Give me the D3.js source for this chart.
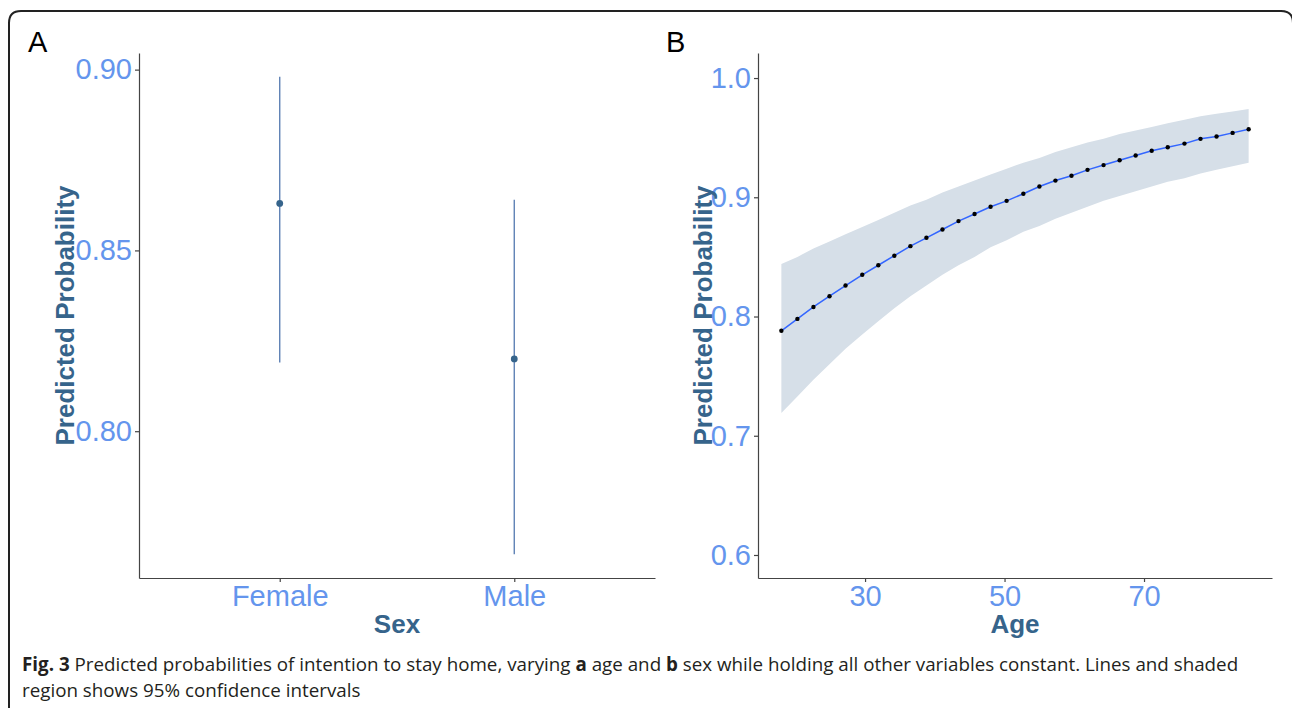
<!DOCTYPE html>
<html>
<head>
<meta charset="utf-8">
<script src="https://cdn.jsdelivr.net/npm/d3@7"></script>
<style>
	body { margin: 0; background: #fff; }
	svg text { font-family: "Liberation Sans", Arial, sans-serif; }
</style>
</head>
<body>
<div id="graph"></div>
<script>
"use strict";

// panel A: predicted probability by sex
let sexes = ["Female", "Male"];
let sexFit = [0.863, 0.820];
let sexLower = [0.819, 0.766];
let sexUpper = [0.898, 0.864];
let sexTicks = [0.80, 0.85, 0.90];

// panel B: predicted probability by age
let ages = [18.0, 20.3, 22.6, 24.9, 27.2, 29.6, 31.9, 34.2, 36.5, 38.8,
	41.1, 43.4, 45.7, 48.0, 50.3, 52.7, 55.0, 57.3, 59.6, 61.9,
	64.2, 66.5, 68.8, 71.1, 73.4, 75.8, 78.1, 80.4, 82.7, 85.0];
let ageFit = [0.788, 0.798, 0.808, 0.817, 0.826, 0.835, 0.843, 0.851, 0.859, 0.866,
	0.873, 0.880, 0.886, 0.892, 0.897, 0.903, 0.909, 0.914, 0.918, 0.923,
	0.927, 0.931, 0.935, 0.939, 0.942, 0.945, 0.949, 0.951, 0.954, 0.957];
let ageUpper = [0.844, 0.850, 0.857, 0.863, 0.869, 0.875, 0.881, 0.887, 0.893, 0.898,
	0.904, 0.909, 0.914, 0.919, 0.924, 0.929, 0.933, 0.938, 0.942, 0.946,
	0.949, 0.953, 0.956, 0.959, 0.962, 0.965, 0.968, 0.970, 0.972, 0.974];
let ageLower = [0.719, 0.733, 0.747, 0.760, 0.773, 0.785, 0.796, 0.807, 0.817, 0.826,
	0.835, 0.843, 0.850, 0.858, 0.864, 0.871, 0.876, 0.882, 0.887, 0.892,
	0.897, 0.901, 0.905, 0.909, 0.913, 0.916, 0.920, 0.923, 0.926, 0.929];
let ageTicks = [30, 50, 70];
let probTicks = [0.6, 0.7, 0.8, 0.9, 1.0];

let tickColor = "#6495ED";
let titleColor = "#36648B";

let svg = d3.select("#graph")
	.append("svg")
	.attr("width", 1292)
	.attr("height", 708);

// frame round the figure, open at the bottom
svg.append("path")
	.attr("d", "M9,710 L9,23 Q9,11 21,11 L1281,11 Q1293,11 1293,23 L1293,710")
	.attr("fill", "none")
	.attr("stroke", "#222")
	.attr("stroke-width", 2);

function styleAxis(g)
{
	g.select(".domain").attr("stroke", "#444").attr("stroke-width", 1.2);
	g.selectAll(".tick line").attr("stroke", "#444").attr("stroke-width", 1.2);
	g.selectAll(".tick text")
		.attr("fill", tickColor)
		.style("font-size", "29px")
		.style("font-family", "'Liberation Sans', Arial, sans-serif");
}

// ---------- panel A ----------
let aLeft = 139, aRight = 655, aTop = 53, aBottom = 578;

let xA = d3.scalePoint()
	.domain(sexes)
	.range([aLeft, aRight])
	.padding(0.6);

let yA = d3.scaleLinear()
	.domain([0.7594, 0.9046])
	.range([aBottom, aTop]);

svg.append("g")
	.attr("transform", "translate(0," + aBottom + ")")
	.call(d3.axisBottom(xA).tickSize(4).tickSizeOuter(0).tickPadding(3))
	.call(styleAxis)
	.selectAll(".tick text").attr("dy", "0.72em");

svg.append("g")
	.attr("transform", "translate(" + aLeft + ",0)")
	.call(d3.axisLeft(yA).tickValues(sexTicks).tickFormat(d3.format(".2f")).tickSize(4).tickSizeOuter(0).tickPadding(3))
	.call(styleAxis);

svg.append("g")
	.selectAll("line")
	.data(sexes)
	.enter().append("line")
	.attr("x1", d => xA(d))
	.attr("x2", d => xA(d))
	.attr("y1", (d, i) => yA(sexLower[i]))
	.attr("y2", (d, i) => yA(sexUpper[i]))
	.attr("stroke", "#5F82B5")
	.attr("stroke-width", 1.4);

svg.append("g")
	.selectAll("circle")
	.data(sexes)
	.enter().append("circle")
	.attr("cx", d => xA(d))
	.attr("cy", (d, i) => yA(sexFit[i]))
	.attr("r", 3.4)
	.attr("fill", "#36648B");

svg.append("text")
	.attr("x", (aLeft + aRight) / 2)
	.attr("y", 633)
	.attr("text-anchor", "middle")
	.attr("fill", titleColor)
	.style("font-size", "26px")
	.style("font-weight", "bold")
	.text("Sex");

svg.append("text")
	.attr("transform", "translate(74," + ((aTop + aBottom) / 2) + ") rotate(-90)")
	.attr("text-anchor", "middle")
	.attr("fill", titleColor)
	.style("font-size", "26px")
	.style("font-weight", "bold")
	.text("Predicted Probability");

svg.append("text")
	.attr("x", 28)
	.attr("y", 52)
	.style("font-size", "29px")
	.attr("fill", "#000")
	.text("A");

// ---------- panel B ----------
let bLeft = 758, bRight = 1272, bTop = 53, bBottom = 578;

let xB = d3.scaleLinear()
	.domain([14.65, 88.35])
	.range([bLeft, bRight]);

let yB = d3.scaleLinear()
	.domain([0.5807, 1.021])
	.range([bBottom, bTop]);

let band = d3.area()
	.x((d, i) => xB(ages[i]))
	.y0((d, i) => yB(ageLower[i]))
	.y1((d, i) => yB(ageUpper[i]));

svg.append("path")
	.datum(ages)
	.attr("d", band)
	.attr("fill", "#D6DFE8");

let fitLine = d3.line()
	.x((d, i) => xB(ages[i]))
	.y((d, i) => yB(ageFit[i]));

svg.append("path")
	.datum(ages)
	.attr("d", fitLine)
	.attr("fill", "none")
	.attr("stroke", "#3366FF")
	.attr("stroke-width", 1.5);

svg.append("g")
	.selectAll("circle")
	.data(ages)
	.enter().append("circle")
	.attr("cx", d => xB(d))
	.attr("cy", (d, i) => yB(ageFit[i]))
	.attr("r", 2.2)
	.attr("fill", "#000");

svg.append("g")
	.attr("transform", "translate(0," + bBottom + ")")
	.call(d3.axisBottom(xB).tickValues(ageTicks).tickSize(4).tickSizeOuter(0).tickPadding(3))
	.call(styleAxis)
	.selectAll(".tick text").attr("dy", "0.72em");

svg.append("g")
	.attr("transform", "translate(" + bLeft + ",0)")
	.call(d3.axisLeft(yB).tickValues(probTicks).tickFormat(d3.format(".1f")).tickSize(4).tickSizeOuter(0).tickPadding(3))
	.call(styleAxis);

svg.append("text")
	.attr("x", (bLeft + bRight) / 2)
	.attr("y", 633)
	.attr("text-anchor", "middle")
	.attr("fill", titleColor)
	.style("font-size", "26px")
	.style("font-weight", "bold")
	.text("Age");

svg.append("text")
	.attr("transform", "translate(712," + ((bTop + bBottom) / 2) + ") rotate(-90)")
	.attr("text-anchor", "middle")
	.attr("fill", titleColor)
	.style("font-size", "26px")
	.style("font-weight", "bold")
	.text("Predicted Probability");

svg.append("text")
	.attr("x", 666)
	.attr("y", 52)
	.style("font-size", "29px")
	.attr("fill", "#000")
	.text("B");

// ---------- caption ----------
let caption = svg.append("g")
	.style("font-size", "18.8px")
	.attr("fill", "#231F20");

let line1 = caption.append("text")
	.attr("x", 22)
	.attr("y", 671)
	.style("font-family", "'Open Sans', 'Noto Sans', sans-serif");
line1.append("tspan").style("font-weight", "bold").text("Fig. 3");
line1.append("tspan").text(" Predicted probabilities of intention to stay home, varying ");
line1.append("tspan").style("font-weight", "bold").text("a");
line1.append("tspan").text(" age and ");
line1.append("tspan").style("font-weight", "bold").text("b");
line1.append("tspan").text(" sex while holding all other variables constant. Lines and shaded");

caption.append("text")
	.attr("x", 22)
	.attr("y", 697)
	.style("font-family", "'Open Sans', 'Noto Sans', sans-serif")
	.text("region shows 95% confidence intervals");
</script>
</body>
</html>
